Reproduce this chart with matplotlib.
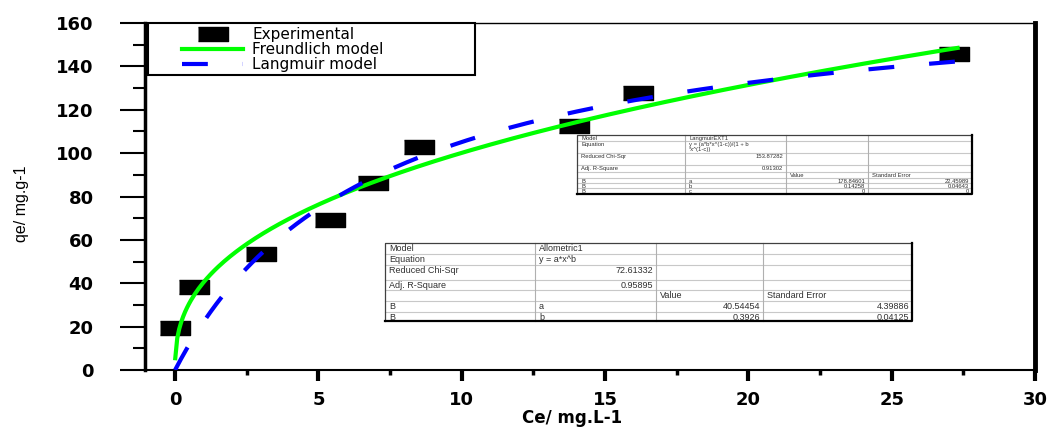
import numpy as np
import matplotlib
matplotlib.use("Agg")
import matplotlib.pyplot as plt
from matplotlib.patches import Rectangle
from matplotlib.lines import Line2D

# experimental points
ce = [0.0, 0.66, 3.0, 5.4, 6.9, 8.5, 13.9, 16.15, 27.17]
qe = [19.5, 38.3, 53.5, 69.2, 86.2, 102.8, 112.5, 127.7, 145.5]

# fit parameters (from the result tables)
freund_a, freund_b = 40.54454, 0.3926
lang_a, lang_b, lang_c = 178.84601, 0.14258, 0.0

x_ticks = [0, 5, 10, 15, 20, 25, 30]
y_ticks = [0, 20, 40, 60, 80, 100, 120, 140, 160]

lang_table = [
    ["Model", "LangmuirEXT1", "", ""],
    ["Equation", "y = (a*b*x^(1-c))/(1 + b\n*x^(1-c))", "", ""],
    ["Reduced Chi-Sqr", "153.87282", "", ""],
    ["Adj. R-Square", "0.91302", "", ""],
    ["", "", "Value", "Standard Error"],
    ["B", "a", "178.84601", "22.45989"],
    ["B", "b", "0.14258", "0.04643"],
    ["B", "c", "0", "0"],
]
allo_table = [
    ["Model", "Allometric1", "", ""],
    ["Equation", "y = a*x^b", "", ""],
    ["Reduced Chi-Sqr", "72.61332", "", ""],
    ["Adj. R-Square", "0.95895", "", ""],
    ["", "", "Value", "Standard Error"],
    ["B", "a", "40.54454", "4.39886"],
    ["B", "b", "0.3926", "0.04125"],
]

W, H = 1054, 428


def is_number(s):
    try:
        float(s)
        return True
    except ValueError:
        return False


## draws an Origin-like result table, positions given in figure pixels
def draw_table(fig, left, top, col_w, row_h, cells, fs):
    tf = fig.transFigure
    fx = lambda px: px / W
    fy = lambda py: 1 - py / H
    width = sum(col_w)
    height = sum(row_h)
    fig.add_artist(Rectangle((fx(left), fy(top + height)), width / W, height / H,
                             transform=tf, facecolor="white", edgecolor="none", zorder=10))
    # inner grid
    y = top
    for h in row_h[:-1]:
        y += h
        fig.add_artist(Line2D([fx(left), fx(left + width)], [fy(y), fy(y)],
                              transform=tf, color="#c8c8c8", lw=0.8, zorder=11))
    x = left
    for w in col_w[:-1]:
        x += w
        fig.add_artist(Line2D([fx(x), fx(x)], [fy(top), fy(top + height)],
                              transform=tf, color="#b0b0b0", lw=0.8, zorder=11))
    # border
    fig.add_artist(Line2D([fx(left), fx(left), fx(left + width)],
                          [fy(top + height), fy(top), fy(top)],
                          transform=tf, color="#404040", lw=0.9, zorder=12))
    fig.add_artist(Line2D([fx(left), fx(left + width), fx(left + width)],
                          [fy(top + height), fy(top + height), fy(top)],
                          transform=tf, color="black", lw=1.6, zorder=12))
    y = top
    for r, row in enumerate(cells):
        x = left
        for c, txt in enumerate(row):
            if txt:
                if is_number(txt):
                    fig.text(fx(x + col_w[c] - 3), fy(y + 1), txt, ha="right", va="top",
                             fontsize=fs, color="#303030", family="Liberation Sans",
                             transform=tf, zorder=13, linespacing=0.95)
                else:
                    fig.text(fx(x + 4), fy(y + 1), txt, ha="left", va="top",
                             fontsize=fs, color="#303030", family="Liberation Sans",
                             transform=tf, zorder=13, linespacing=0.95)
            x += col_w[c]
        y += row_h[r]


fig = plt.figure(figsize=(W / 100, H / 100), dpi=100)
ax = fig.add_axes([145 / W, 1 - 370 / H, 890 / W, 347 / H])

xf = np.linspace(0.006, 27.3, 400)
yf = freund_a * xf ** freund_b
xl = np.linspace(0.0, 27.3, 400)
yl = lang_a * lang_b * xl ** (1 - lang_c) / (1 + lang_b * xl ** (1 - lang_c))

box = [(-1, -0.45), (1, -0.45), (1, 0.45), (-1, 0.45)]
ax.plot(ce, qe, linestyle="none", marker=box, markersize=21, color="black",
        label="Experimental", zorder=3)
ax.plot(xf, yf, color="#00ff00", lw=3, label="Freundlich model", zorder=4)
ax.plot(xl, yl, color="#0000ff", lw=3, dashes=(6.2, 8.4), label="Langmuir model", zorder=4)

ax.set_xlim(-1.05, 30)
ax.set_ylim(0, 160)
ax.set_xticks(x_ticks)
ax.set_xticks(np.arange(2.5, 30, 5), minor=True)
ax.set_yticks(y_ticks)
ax.set_yticks(np.arange(10, 160, 20), minor=True)

ax.tick_params(axis="x", which="major", direction="out", length=8, width=3, pad=7,
               labelsize=13)
ax.tick_params(axis="x", which="minor", direction="out", length=3.5, width=2.5)
ax.tick_params(axis="y", which="major", direction="out", length=18, width=1.5, pad=19,
               labelsize=13)
ax.tick_params(axis="y", which="minor", direction="out", length=9, width=1.5)
for lab in ax.get_xticklabels() + ax.get_yticklabels():
    lab.set_fontweight("bold")
    lab.set_family("DejaVu Sans")

ax.spines["left"].set_linewidth(2.5)
ax.spines["bottom"].set_linewidth(1.5)
ax.spines["right"].set_linewidth(3.5)
ax.spines["top"].set_linewidth(1.0)

ax.set_xlabel("Ce/ mg.L-1", fontsize=12, fontweight="bold", family="DejaVu Sans")
ax.xaxis.set_label_coords(0.48, -0.113)
ax.set_ylabel("qe/ mg.g-1", fontsize=11.5, family="Liberation Sans")
ax.yaxis.set_label_coords(-0.13, 0.48)

# legend frame drawn separately so the entries can sit indented like the original
frame = Rectangle((148 / W, 1 - 75 / H), 327 / W, 52 / H, transform=fig.transFigure,
                  facecolor="white", edgecolor="black", lw=1.5, zorder=5.5, clip_on=False)
ax.add_artist(frame)
leg = ax.legend(loc="upper left", bbox_to_anchor=(182 / W, 1 - 27 / H),
                bbox_transform=fig.transFigure, borderaxespad=0, frameon=False,
                fontsize=11, handlelength=4.0, handletextpad=0.6, labelspacing=0.0,
                borderpad=0.0, markerscale=1.0)
leg.set_zorder(6)
for t in leg.get_texts():
    t.set_family("DejaVu Sans")

draw_table(fig, 577, 135, [108, 101, 82, 104], [6, 12, 12, 7, 6, 5, 5, 6], lang_table, 4.2)
draw_table(fig, 385, 243, [150, 121, 107, 149], [11, 11, 15, 10, 11, 11, 9], allo_table, 6.5)

fig.savefig("out.png", dpi=100)
